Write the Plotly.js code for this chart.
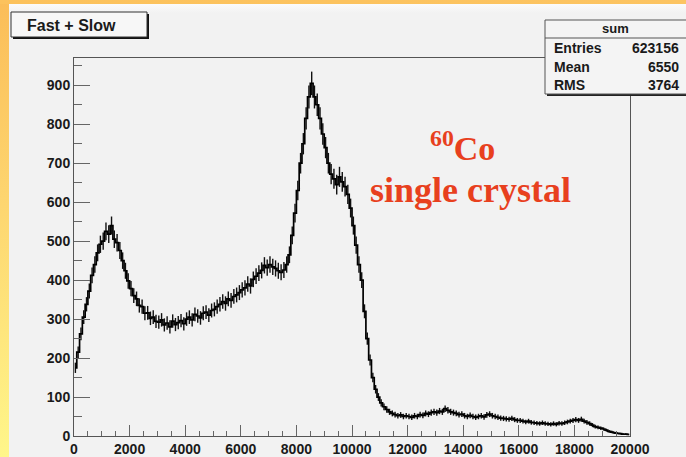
<!DOCTYPE html>
<html>
<head>
<meta charset="utf-8">
<script src="https://cdn.plot.ly/plotly-3.0.1.min.js"></script>
<style>
html,body{margin:0;padding:0;width:686px;height:457px;overflow:hidden;}
body{background:linear-gradient(to bottom,#fbbd58 0%,#fdd670 45%,#fff68a 100%);position:relative;}
#topband{position:absolute;left:0;top:0;width:686px;height:4px;background:linear-gradient(to right,#fcc25c,#fcc462);}
#panel{position:absolute;left:9px;top:4px;width:677px;height:453px;background:linear-gradient(to bottom,#fbfbfb 0px,#f2f2f2 9px,#f2f2f2 100%);}
#chart{position:absolute;left:0;top:0;width:686px;height:457px;}
</style>
</head>
<body>
<div id="topband"></div>
<div id="panel"></div>
<div id="chart"></div>
<script>
// Histogram "sum" (Fast + Slow), bin width 100, range 0..20000
const binWidth = 100;
const counts0to1k   = [175, 215, 262, 305, 338, 372, 412, 440, 470, 492];
const counts1to2k   = [500, 525, 518, 540, 505, 496, 476, 450, 424, 398];
const counts2to3k   = [378, 360, 352, 335, 332, 315, 316, 302, 305, 294];
const counts3to4k   = [292, 298, 285, 290, 280, 295, 286, 291, 296, 288];
const counts4to5k   = [300, 305, 298, 312, 308, 303, 315, 318, 310, 322];
const counts5to6k   = [325, 332, 338, 345, 340, 352, 348, 358, 362, 368];
const counts6to7k   = [375, 380, 390, 385, 402, 410, 418, 425, 438, 432];
const counts7to8k   = [440, 434, 430, 424, 420, 426, 440, 465, 515, 572];
const counts8to9k   = [630, 700, 750, 815, 870, 905, 870, 850, 815, 775];
const counts9to10k  = [740, 700, 672, 660, 645, 665, 652, 640, 620, 585];
const counts10to11k = [540, 490, 440, 400, 320, 250, 195, 150, 120, 100];
const counts11to12k = [85, 75, 68, 62, 58, 55, 52, 54, 50, 52];
const counts12to13k = [50, 48, 52, 50, 55, 53, 58, 56, 60, 62];
const counts13to14k = [60, 64, 62, 70, 66, 62, 60, 58, 55, 56];
const counts14to15k = [52, 50, 53, 50, 48, 50, 52, 49, 54, 56];
const counts15to16k = [52, 50, 48, 46, 45, 44, 43, 45, 42, 40];
const counts16to17k = [40, 38, 36, 38, 35, 34, 33, 32, 34, 32];
const counts17to18k = [31, 30, 32, 30, 33, 32, 34, 36, 38, 40];
const counts18to19k = [42, 40, 43, 38, 35, 32, 28, 24, 22, 20];
const counts19to20k = [18, 15, 12, 10, 8, 7, 6, 5, 5, 4];

const xTickVals = [0, 2000, 4000, 6000, 8000, 10000, 12000, 14000, 16000, 18000, 20000];
const yTickVals = [0, 100, 200, 300, 400, 500, 600, 700, 800, 900];

const histTitle = "Fast + Slow";
const statsName = "sum";
const statsLabels = ["Entries", "Mean", "RMS"];
const statsValues = ["623156", "6550", "3764"];
const noteLines = ["<sup>60</sup>Co", "single crystal"];

const counts = [].concat(counts0to1k, counts1to2k, counts2to3k, counts3to4k, counts4to5k,
  counts5to6k, counts6to7k, counts7to8k, counts8to9k, counts9to10k, counts10to11k,
  counts11to12k, counts12to13k, counts13to14k, counts14to15k, counts15to16k,
  counts16to17k, counts17to18k, counts18to19k, counts19to20k);
const centers = counts.map((_, i) => i * binWidth + binWidth / 2);

// plot area in pixels
const L = 74, R = 630, T = 58, B = 436;
const px = x => (x - L) / (R - L);
const py = y => (B - y) / (B - T);

const sansBold = {family: "Liberation Sans, Arial, Helvetica, sans-serif", weight: "bold", color: "#1a1a1a"};
const red = "#e8401e";

const shapes = [
  {type: "rect", xref: "paper", yref: "paper", x0: px(13), x1: px(149), y0: py(39), y1: py(14), fillcolor: "#111", line: {width: 0}, layer: "above"},
  {type: "rect", xref: "paper", yref: "paper", x0: px(11), x1: px(147), y0: py(37), y1: py(12), fillcolor: "#f7f7f7", line: {color: "#333", width: 1}, layer: "above"},
  {type: "rect", xref: "paper", yref: "paper", x0: px(547), x1: px(690), y0: py(96), y1: py(22), fillcolor: "#222", line: {width: 0}, layer: "above"},
  {type: "rect", xref: "paper", yref: "paper", x0: px(545), x1: px(688), y0: py(94), y1: py(20), fillcolor: "#f4f4f4", line: {color: "#555", width: 1}, layer: "above"},
  {type: "line", xref: "paper", yref: "paper", x0: px(545), x1: px(688), y0: py(38), y1: py(38), line: {color: "#555", width: 1}, layer: "above"}
];

const annotations = [
  {xref: "paper", yref: "paper", x: px(25), y: py(25), xanchor: "left", yanchor: "middle", text: histTitle, showarrow: false, font: Object.assign({}, sansBold, {size: 16})},
  {xref: "paper", yref: "paper", x: px(615), y: py(29), xanchor: "center", yanchor: "middle", text: statsName, showarrow: false, font: Object.assign({}, sansBold, {size: 13})}
];
const rowY = [48, 67, 85];
statsLabels.forEach((lab, i) => {
  annotations.push({xref: "paper", yref: "paper", x: px(552), y: py(rowY[i]), xanchor: "left", yanchor: "middle", text: lab, showarrow: false, font: Object.assign({}, sansBold, {size: 14})});
  annotations.push({xref: "paper", yref: "paper", x: px(681), y: py(rowY[i]), xanchor: "right", yanchor: "middle", text: statsValues[i], showarrow: false, font: Object.assign({}, sansBold, {size: 14})});
});
annotations.push({xref: "paper", yref: "paper", x: px(462), y: py(146), xanchor: "center", yanchor: "middle", text: noteLines[0], showarrow: false, font: {family: "Liberation Serif, Times New Roman, serif", weight: "bold", size: 34, color: red}});
annotations.push({xref: "paper", yref: "paper", x: px(470), y: py(190), xanchor: "center", yanchor: "middle", text: noteLines[1], showarrow: false, font: {family: "Liberation Serif, Times New Roman, serif", weight: "bold", size: 36, color: red}});

const trace = {
  type: "scatter", mode: "lines", x: centers, y: counts,
  line: {color: "#000", width: 1.7, shape: "hvh"},
  error_y: {type: "sqrt", visible: true, width: 0, thickness: 1.4, color: "#111"},
  hoverinfo: "skip"
};

const tickFont = Object.assign({}, sansBold, {size: 14});

const layout = {
  width: 686, height: 457,
  margin: {l: L, r: 686 - R, t: T, b: 457 - B, pad: 0},
  paper_bgcolor: "rgba(0,0,0,0)",
  plot_bgcolor: "rgba(0,0,0,0)",
  showlegend: false,
  xaxis: {
    range: [0, 20000], tickvals: xTickVals, ticktext: xTickVals.map(String),
    ticks: "inside", ticklen: 11, tickcolor: "#666", tickwidth: 1,
    minor: {dtick: 500, tick0: 0, ticks: "inside", ticklen: 5, tickcolor: "#666", showgrid: false},
    showgrid: false, zeroline: false, showline: true, linecolor: "#555", linewidth: 1, mirror: true,
    tickfont: tickFont, fixedrange: true
  },
  yaxis: {
    range: [0, 970], tickvals: yTickVals, ticktext: yTickVals.map(String),
    ticks: "inside", ticklen: 16, tickcolor: "#666", tickwidth: 1,
    minor: {dtick: 50, tick0: 0, ticks: "inside", ticklen: 8, tickcolor: "#666", showgrid: false},
    showgrid: false, zeroline: false, showline: true, linecolor: "#555", linewidth: 1, mirror: true,
    tickfont: tickFont, fixedrange: true
  },
  shapes: shapes,
  annotations: annotations
};

Plotly.newPlot("chart", [trace], layout, {displayModeBar: false, staticPlot: true});
</script>
</body>
</html>
